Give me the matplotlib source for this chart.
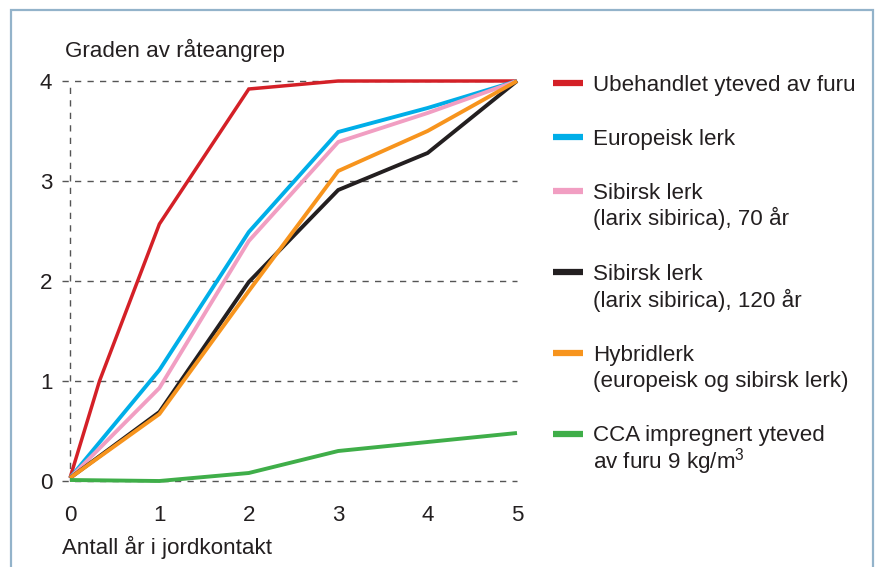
import matplotlib
matplotlib.use("Agg")
import matplotlib.pyplot as plt
from matplotlib.lines import Line2D
from matplotlib.patches import Rectangle

plt.rcParams['font.family'] = ['Liberation Sans', 'DejaVu Sans']
plt.rcParams['mathtext.fontset'] = 'custom'
plt.rcParams['mathtext.rm'] = 'Liberation Sans'

# ---- data ----
years = [0, 1, 2, 3, 4, 5]
red_years = [0, 0.33, 1, 2, 3, 4, 5]
ubehandlet = [0.03, 1.0, 2.57, 3.92, 4.0, 4.0, 4.0]
europeisk = [0.03, 1.11, 2.49, 3.49, 3.73, 4.0]
sibirsk70 = [0.03, 0.93, 2.40, 3.39, 3.68, 4.0]
sibirsk120 = [0.03, 0.69, 1.99, 2.91, 3.28, 4.0]
hybrid = [0.03, 0.67, 1.90, 3.10, 3.50, 4.0]
cca = [0.01, 0.0, 0.08, 0.30, 0.39, 0.48]

labels = [
    "Ubehandlet yteved av furu",
    "Europeisk lerk",
    "Sibirsk lerk\n(larix sibirica), 70 år",
    "Sibirsk lerk\n(larix sibirica), 120 år",
    "Hybridlerk\n(europeisk og sibirsk lerk)",
    "CCA impregnert yteved\nav furu 9 kg/m$^\\mathregular{3}$",
]
colors = ["#d42027", "#00aee8", "#f19ec2", "#231f20", "#f7941d", "#3fae49"]
series = [(red_years, ubehandlet), (years, europeisk), (years, sibirsk70),
          (years, sibirsk120), (years, hybrid), (years, cca)]
xticks = [0, 1, 2, 3, 4, 5]
yticks = [0, 1, 2, 3, 4]

FS = 16.1
W, H = 877, 567
fig = plt.figure(figsize=(W / 100, H / 100), dpi=100)

# frame
fig.add_artist(Rectangle((11 / W, -0.05), (873 - 11) / W, 1.05 - 10 / H,
                         transform=fig.transFigure, fill=False,
                         edgecolor="#93b3ca", linewidth=1.6))

x0px, x5px = 70, 517
y0px, y4px = 481, 81
unit = (x5px - x0px) / 5
left_px = 62
ax = fig.add_axes([left_px / W, (H - y0px) / H, (x5px - left_px) / W, (y0px - y4px) / H])
ax.set_xlim(-(x0px - left_px) / unit, 5)
ax.set_ylim(0, 4)
for s in ax.spines.values():
    s.set_visible(False)
ax.patch.set_visible(False)

# grid
grid_kw = dict(color="#555555", linewidth=1.0, linestyle=(0, (4.5, 4.5)), clip_on=False, zorder=1)
for yv in yticks:
    ax.plot([ax.get_xlim()[0], 5], [yv, yv], **grid_kw)
ax.plot([0, 0], [0, 4], **grid_kw)

for (xs, ys), c in zip(series, colors):
    lw = 2.5 if c == "#d42027" else 2.8
    ax.plot(xs, ys, color=c, linewidth=lw, clip_on=False, zorder=3,
            solid_joinstyle="miter", solid_capstyle="butt")

ax.set_xticks(xticks)
ax.set_yticks(yticks)
ax.tick_params(length=0, labelsize=FS, colors="#231f20")
ax.tick_params(axis="y", pad=7)
ax.tick_params(axis="x", pad=17)

fig.text(65 / W, 1 - 57 / H, "Graden av råteangrep", fontsize=FS, color="#231f20", va="baseline")
fig.text(62 / W, 1 - 554 / H, "Antall år i jordkontakt", fontsize=FS, color="#231f20", va="baseline")

# legend
y = 83
for lab, c in zip(labels, colors):
    fig.add_artist(Line2D([553 / W, 583 / W], [1 - y / H, 1 - y / H], color=c,
                          linewidth=4.5, solid_capstyle="butt", transform=fig.transFigure))
    lines = lab.split("\n")
    for i, ln in enumerate(lines):
        fig.text(593 / W, 1 - (y + 7.5 + 27 * i) / H, ln, fontsize=FS, color="#231f20",
                 va="baseline")
    y += 27 * len(lines) + 27

fig.savefig("out.png", dpi=100)
